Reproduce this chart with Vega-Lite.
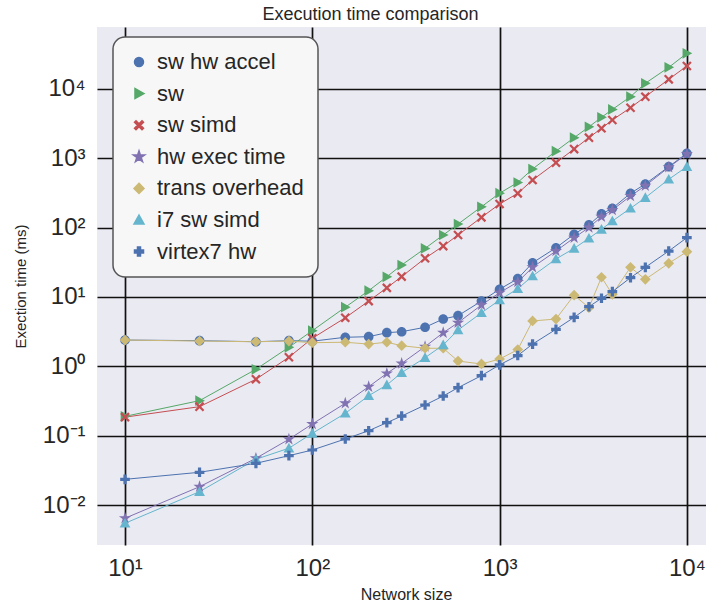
{
"$schema": "https://vega.github.io/schema/vega-lite/v6.json",
"width": 609, "height": 518,
"autosize": {"type": "none"},
"padding": {"left": 97, "top": 27, "right": 0, "bottom": 63},
"background": "white",
"title": {"text": "Execution time comparison", "font": "Liberation Sans", "fontSize": 18, "fontWeight": "normal", "color": "#262626", "anchor": "middle", "frame": "group", "baseline": "alphabetic", "offset": 6, "dx": -31, "dy": 17},
"data": {"values": [
{"s":"sw hw accel","n":10,"t":2.39},{"s":"sw hw accel","n":25,"t":2.34},{"s":"sw hw accel","n":50,"t":2.26},{"s":"sw hw accel","n":75,"t":2.34},{"s":"sw hw accel","n":100,"t":2.3},{"s":"sw hw accel","n":150,"t":2.62},{"s":"sw hw accel","n":200,"t":2.67},{"s":"sw hw accel","n":250,"t":3.05},{"s":"sw hw accel","n":300,"t":3.15},{"s":"sw hw accel","n":400,"t":3.65},{"s":"sw hw accel","n":500,"t":4.8},{"s":"sw hw accel","n":600,"t":5.36},{"s":"sw hw accel","n":800,"t":8.7},{"s":"sw hw accel","n":1000,"t":12.9},{"s":"sw hw accel","n":1250,"t":18.3},{"s":"sw hw accel","n":1500,"t":31},{"s":"sw hw accel","n":2000,"t":51},{"s":"sw hw accel","n":2500,"t":80},{"s":"sw hw accel","n":3000,"t":109},{"s":"sw hw accel","n":3500,"t":157},{"s":"sw hw accel","n":4000,"t":189},{"s":"sw hw accel","n":5000,"t":311},{"s":"sw hw accel","n":6000,"t":424},{"s":"sw hw accel","n":8000,"t":752},{"s":"sw hw accel","n":10000,"t":1172},
{"s":"sw","n":10,"t":0.19},{"s":"sw","n":25,"t":0.32},{"s":"sw","n":50,"t":0.905},{"s":"sw","n":75,"t":1.88},{"s":"sw","n":100,"t":3.26},{"s":"sw","n":150,"t":7.1},{"s":"sw","n":200,"t":12.3},{"s":"sw","n":250,"t":19.5},{"s":"sw","n":300,"t":28.8},{"s":"sw","n":400,"t":50},{"s":"sw","n":500,"t":78},{"s":"sw","n":600,"t":112},{"s":"sw","n":800,"t":199},{"s":"sw","n":1000,"t":312},{"s":"sw","n":1250,"t":445},{"s":"sw","n":1500,"t":697},{"s":"sw","n":2000,"t":1260},{"s":"sw","n":2500,"t":1970},{"s":"sw","n":3000,"t":2820},{"s":"sw","n":3500,"t":3870},{"s":"sw","n":4000,"t":5020},{"s":"sw","n":5000,"t":7680},{"s":"sw","n":6000,"t":11970},{"s":"sw","n":8000,"t":20300},{"s":"sw","n":10000,"t":32350},
{"s":"sw simd","n":10,"t":0.185},{"s":"sw simd","n":25,"t":0.262},{"s":"sw simd","n":50,"t":0.65},{"s":"sw simd","n":75,"t":1.35},{"s":"sw simd","n":100,"t":2.53},{"s":"sw simd","n":150,"t":5.0},{"s":"sw simd","n":200,"t":8.7},{"s":"sw simd","n":250,"t":13.5},{"s":"sw simd","n":300,"t":19.6},{"s":"sw simd","n":400,"t":36},{"s":"sw simd","n":500,"t":54},{"s":"sw simd","n":600,"t":78},{"s":"sw simd","n":800,"t":140},{"s":"sw simd","n":1000,"t":218},{"s":"sw simd","n":1250,"t":311},{"s":"sw simd","n":1500,"t":483},{"s":"sw simd","n":2000,"t":860},{"s":"sw simd","n":2500,"t":1350},{"s":"sw simd","n":3000,"t":1970},{"s":"sw simd","n":3500,"t":2690},{"s":"sw simd","n":4000,"t":3540},{"s":"sw simd","n":5000,"t":5320},{"s":"sw simd","n":6000,"t":7670},{"s":"sw simd","n":8000,"t":13650},{"s":"sw simd","n":10000,"t":21240},
{"s":"hw exec time","n":10,"t":0.00646},{"s":"hw exec time","n":25,"t":0.0184},{"s":"hw exec time","n":50,"t":0.0472},{"s":"hw exec time","n":75,"t":0.0887},{"s":"hw exec time","n":100,"t":0.1475},{"s":"hw exec time","n":150,"t":0.293},{"s":"hw exec time","n":200,"t":0.508},{"s":"hw exec time","n":250,"t":0.79},{"s":"hw exec time","n":300,"t":1.1},{"s":"hw exec time","n":400,"t":1.92},{"s":"hw exec time","n":500,"t":3.05},{"s":"hw exec time","n":600,"t":4.25},{"s":"hw exec time","n":800,"t":7.64},{"s":"hw exec time","n":1000,"t":11.5},{"s":"hw exec time","n":1250,"t":16.4},{"s":"hw exec time","n":1500,"t":26.7},{"s":"hw exec time","n":2000,"t":45.8},{"s":"hw exec time","n":2500,"t":71},{"s":"hw exec time","n":3000,"t":100},{"s":"hw exec time","n":3500,"t":143},{"s":"hw exec time","n":4000,"t":179},{"s":"hw exec time","n":5000,"t":284},{"s":"hw exec time","n":6000,"t":400},{"s":"hw exec time","n":8000,"t":736},{"s":"hw exec time","n":10000,"t":1146},
{"s":"trans overhead","n":10,"t":2.39},{"s":"trans overhead","n":25,"t":2.31},{"s":"trans overhead","n":50,"t":2.26},{"s":"trans overhead","n":75,"t":2.31},{"s":"trans overhead","n":100,"t":2.19},{"s":"trans overhead","n":150,"t":2.22},{"s":"trans overhead","n":200,"t":2.09},{"s":"trans overhead","n":250,"t":2.22},{"s":"trans overhead","n":300,"t":1.98},{"s":"trans overhead","n":400,"t":1.82},{"s":"trans overhead","n":500,"t":1.82},{"s":"trans overhead","n":600,"t":1.19},{"s":"trans overhead","n":800,"t":1.08},{"s":"trans overhead","n":1000,"t":1.27},{"s":"trans overhead","n":1250,"t":1.74},{"s":"trans overhead","n":1500,"t":4.5},{"s":"trans overhead","n":2000,"t":4.8},{"s":"trans overhead","n":2500,"t":10.6},{"s":"trans overhead","n":3000,"t":7.0},{"s":"trans overhead","n":3500,"t":19.2},{"s":"trans overhead","n":4000,"t":10.9},{"s":"trans overhead","n":5000,"t":26.7},{"s":"trans overhead","n":6000,"t":17.9},{"s":"trans overhead","n":8000,"t":30.5},{"s":"trans overhead","n":10000,"t":44.8},
{"s":"i7 sw simd","n":10,"t":0.00547},{"s":"i7 sw simd","n":25,"t":0.0156},{"s":"i7 sw simd","n":50,"t":0.0457},{"s":"i7 sw simd","n":75,"t":0.066},{"s":"i7 sw simd","n":100,"t":0.108},{"s":"i7 sw simd","n":150,"t":0.21},{"s":"i7 sw simd","n":200,"t":0.377},{"s":"i7 sw simd","n":250,"t":0.538},{"s":"i7 sw simd","n":300,"t":0.81},{"s":"i7 sw simd","n":400,"t":1.33},{"s":"i7 sw simd","n":500,"t":2.03},{"s":"i7 sw simd","n":600,"t":3.33},{"s":"i7 sw simd","n":800,"t":5.9},{"s":"i7 sw simd","n":1000,"t":9.0},{"s":"i7 sw simd","n":1250,"t":13.1},{"s":"i7 sw simd","n":1500,"t":20},{"s":"i7 sw simd","n":2000,"t":35.2},{"s":"i7 sw simd","n":2500,"t":50},{"s":"i7 sw simd","n":3000,"t":69.9},{"s":"i7 sw simd","n":3500,"t":94},{"s":"i7 sw simd","n":4000,"t":124},{"s":"i7 sw simd","n":5000,"t":189},{"s":"i7 sw simd","n":6000,"t":269},{"s":"i7 sw simd","n":8000,"t":495},{"s":"i7 sw simd","n":10000,"t":752},
{"s":"virtex7 hw","n":10,"t":0.0235},{"s":"virtex7 hw","n":25,"t":0.0297},{"s":"virtex7 hw","n":50,"t":0.04},{"s":"virtex7 hw","n":75,"t":0.0515},{"s":"virtex7 hw","n":100,"t":0.0622},{"s":"virtex7 hw","n":150,"t":0.0896},{"s":"virtex7 hw","n":200,"t":0.118},{"s":"virtex7 hw","n":250,"t":0.154},{"s":"virtex7 hw","n":300,"t":0.192},{"s":"virtex7 hw","n":400,"t":0.277},{"s":"virtex7 hw","n":500,"t":0.373},{"s":"virtex7 hw","n":600,"t":0.492},{"s":"virtex7 hw","n":800,"t":0.733},{"s":"virtex7 hw","n":1000,"t":1.05},{"s":"virtex7 hw","n":1250,"t":1.43},{"s":"virtex7 hw","n":1500,"t":2.09},{"s":"virtex7 hw","n":2000,"t":3.41},{"s":"virtex7 hw","n":2500,"t":5.08},{"s":"virtex7 hw","n":3000,"t":7.22},{"s":"virtex7 hw","n":3500,"t":9.55},{"s":"virtex7 hw","n":4000,"t":11.9},{"s":"virtex7 hw","n":5000,"t":18.9},{"s":"virtex7 hw","n":6000,"t":26.7},{"s":"virtex7 hw","n":8000,"t":45.8},{"s":"virtex7 hw","n":10000,"t":71.3}
]},
"encoding": {
  "x": {"field": "n", "type": "quantitative",
    "scale": {"type": "log", "domain": [7.087, 12650], "nice": false, "zero": false},
    "axis": {"values": [10, 100, 1000, 10000], "labelExpr": "datum.value > 5000 ? '10⁴' : datum.value > 500 ? '10³' : datum.value > 50 ? '10²' : '10¹'", "labelFlush": false, "labelOverlap": false, "labelFontSize": 24, "labelPadding": 11, "title": "Network size", "titleFontSize": 16, "titleX": 309, "titleY": 49, "titleBaseline": "middle"}},
  "y": {"field": "t", "type": "quantitative",
    "scale": {"type": "log", "domain": [0.00266, 77500], "nice": false, "zero": false},
    "axis": {"values": [0.01, 0.1, 1, 10, 100, 1000, 10000], "labelExpr": "datum.value > 5000 ? '10⁴' : datum.value > 500 ? '10³' : datum.value > 50 ? '10²' : datum.value > 5 ? '10¹' : datum.value > 0.5 ? '10⁰' : datum.value > 0.05 ? '10⁻¹' : '10⁻²'", "labelFlush": false, "labelOverlap": false, "labelFontSize": 24, "labelPadding": 12, "title": "Exection time (ms)", "titleFontSize": 15, "titleX": -77, "titleY": 259, "titleBaseline": "middle", "titleAngle": -90}},
  "color": {"field": "s", "type": "nominal",
    "scale": {"domain": ["sw hw accel", "sw", "sw simd", "hw exec time", "trans overhead", "i7 sw simd", "virtex7 hw"], "range": ["#4C72B0", "#55A868", "#C44E52", "#8172B2", "#CCB974", "#64B5CD", "#4C72B0"]},
    "legend": {"title": null}}
},
"layer": [
  {"mark": {"type": "line", "strokeWidth": 1, "clip": true}},
  {"mark": {"type": "point", "filled": true, "opacity": 1, "size": 115, "clip": true},
   "encoding": {"shape": {"field": "s", "type": "nominal",
     "scale": {"domain": ["sw hw accel", "sw", "sw simd", "hw exec time", "trans overhead", "i7 sw simd", "virtex7 hw"],
       "range": ["M-0.9,0A0.9,0.9 0 1,0 0.9,0A0.9,0.9 0 1,0 -0.9,0Z",
                 "M1,0L-0.8,-1L-0.8,1Z",
                 "M-0.9,-0.6L-0.6,-0.9L0,-0.3L0.6,-0.9L0.9,-0.6L0.3,0L0.9,0.6L0.6,0.9L0,0.3L-0.6,0.9L-0.9,0.6L-0.3,0Z",
                 "M0,-1.2L0.27,-0.372L1.141,-0.371L0.437,0.142L0.705,0.971L0,0.46L-0.705,0.971L-0.437,0.142L-1.141,-0.371L-0.27,-0.372Z",
                 "M0,-1L1,0L0,1L-1,0Z",
                 "M0,-1L1,0.8L-1,0.8Z",
                 "M-0.3,-0.9H0.3V-0.3H0.9V0.3H0.3V0.9H-0.3V0.3H-0.9V-0.3H-0.3Z"]},
     "legend": {"title": null}}}}
],
"config": {
  "font": "Liberation Sans",
  "view": {"stroke": null, "fill": "#EAEAF2"},
  "axis": {"domain": false, "ticks": false, "grid": true, "gridColor": "#111111", "gridWidth": 1.7, "gridOpacity": 1, "labelFont": "Liberation Sans", "labelColor": "#262626", "titleFont": "Liberation Sans", "titleFontWeight": "normal", "titleColor": "#262626"},
  "legend": {"orient": "none", "legendX": 16, "legendY": 10, "labelFont": "Liberation Sans", "labelFontSize": 22, "labelColor": "#262626", "symbolSize": 100, "rowPadding": 9.6, "padding": 14, "symbolOffset": 1, "labelOffset": 7, "cornerRadius": 12, "fillColor": "#F7F7F7", "strokeColor": "#555555", "strokeWidth": 1.5, "labelLimit": 400}
}
}
